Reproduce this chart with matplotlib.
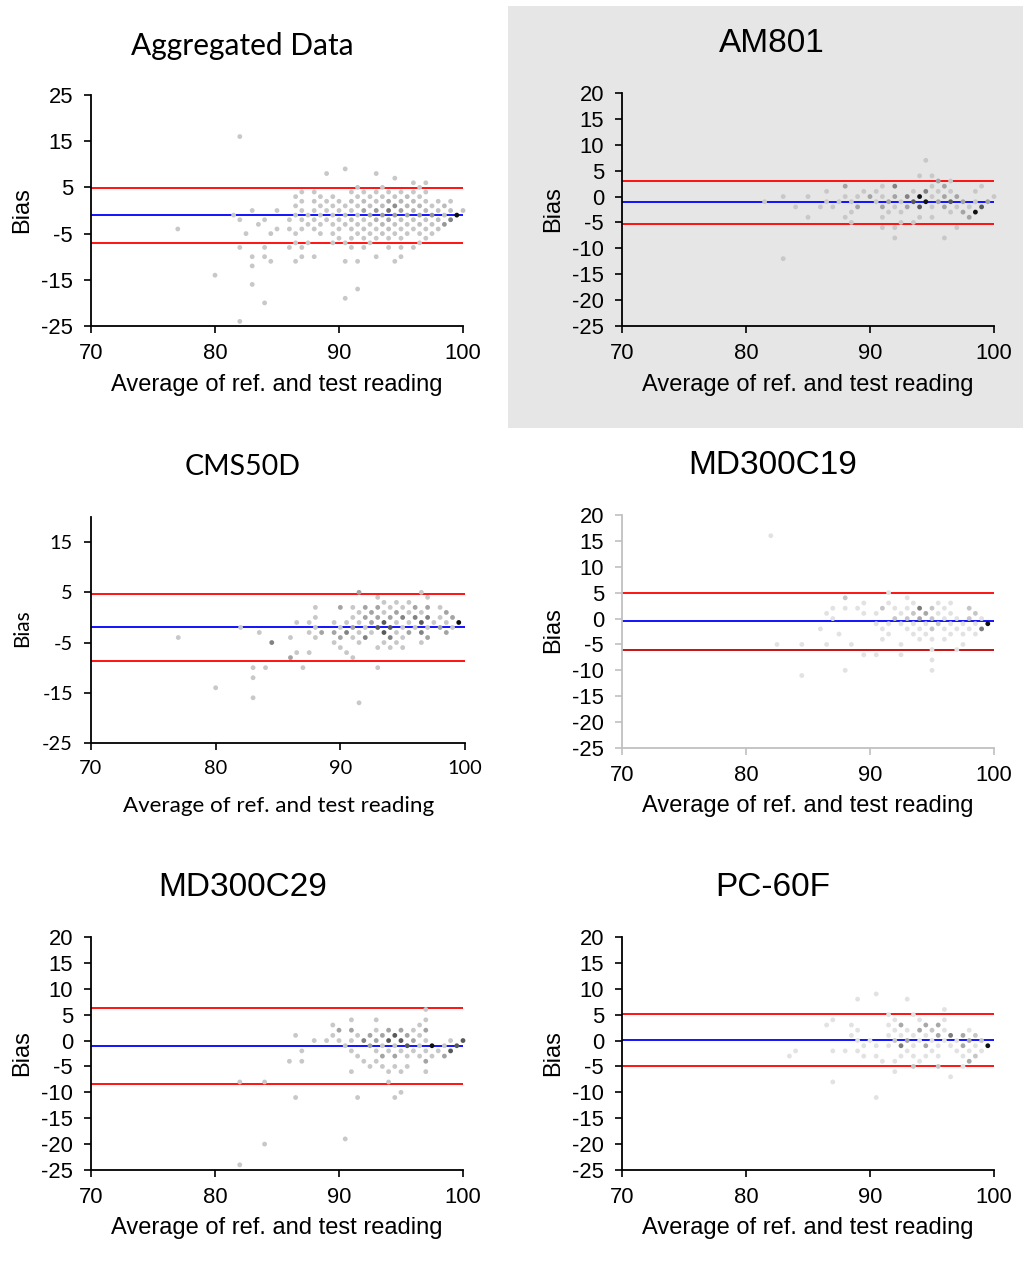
import numpy as np
import matplotlib
matplotlib.use("Agg")
from matplotlib import pyplot as plt
from matplotlib.patches import Rectangle

# (average, bias, number of readings at that spot)
am801 = [
    (81.5, -1, 1), (83, 0, 1), (83, -12, 1), (84, -2, 1), (85, 0, 1), (85, -4, 1), (86, -2, 1),
    (86.5, 1, 1), (86.5, -1, 1), (87, -2, 1), (87.5, -1, 1),
    (88, 2, 2), (88, 0, 1), (88, -4, 1), (88.5, -1, 1), (88.5, -3, 1), (88.5, -5, 1), (89, 0, 1),
    (89, -2, 2), (89.5, 1, 1), (90, 0, 2), (90.5, 1, 1), (90.5, -1, 1),
    (91, 2, 1), (91, 0, 1), (91, -2, 2), (91, -4, 1), (91, -6, 1), (91.5, -1, 2), (91.5, -3, 1),
    (92, 2, 3), (92, 0, 2), (92, -2, 1), (92, -6, 1), (92, -8, 1), (92.5, -1, 1), (92.5, -3, 1),
    (92.5, -5, 1), (93, 0, 3), (93, -2, 2), (93.5, 1, 1), (93.5, -1, 4), (93.5, -5, 1),
    (94, 4, 1), (94, 0, 5), (94, -2, 4), (94, -4, 1), (94.5, 7, 1), (94.5, 1, 3), (94.5, -1, 5),
    (95, 4, 1), (95, 2, 1), (95, 0, 1), (95, -2, 1), (95, -4, 1), (95.5, 3, 2), (95.5, 1, 1),
    (95.5, -1, 2), (96, 2, 2), (96, 0, 2), (96, -2, 2), (96, -8, 1), (96.5, 3, 1), (96.5, 1, 1),
    (96.5, -1, 4), (96.5, -3, 1), (97, 0, 2), (97, -2, 1), (97, -6, 1), (97.5, -1, 2),
    (97.5, -3, 2), (98, -2, 1), (98, -4, 2), (98.5, 1, 1), (98.5, -1, 1), (98.5, -3, 5),
    (99, 2, 1), (99, -2, 4), (99.5, -1, 2), (100, 0, 1)]

cms50d = [
    (77, -4, 1), (80, -14, 1), (82, -2, 1), (83, -10, 1), (83, -12, 1), (83, -16, 1), (83.5, -3, 1),
    (84, -10, 1), (84.5, -5, 3), (86, -4, 1), (86, -8, 2), (86.5, -1, 1), (86.5, -7, 1),
    (87, -10, 1), (87.5, -1, 1), (87.5, -3, 1), (87.5, -7, 1), (88, 2, 1), (88, 0, 1), (88, -2, 1),
    (88, -4, 1), (88.5, -3, 2), (89.5, -1, 1), (89.5, -3, 2), (89.5, -5, 1), (90, 2, 2),
    (90, -2, 1), (90, -4, 2), (90, -6, 1), (90.5, -1, 1), (90.5, -3, 3), (90.5, -7, 1),
    (91, 2, 1), (91, 0, 1), (91, -2, 2), (91, -4, 1), (91, -8, 1), (91.5, 5, 2), (91.5, 1, 1),
    (91.5, -1, 1), (91.5, -3, 1), (91.5, -5, 1), (91.5, -17, 1), (92, 2, 2), (92, 0, 2),
    (92, -2, 1), (92, -4, 3), (92.5, 1, 2), (92.5, -1, 2), (92.5, -3, 1), (93, 4, 1), (93, 2, 2),
    (93, 0, 2), (93, -2, 4), (93, -6, 1), (93, -10, 1), (93.5, 3, 1), (93.5, 1, 1), (93.5, -1, 4),
    (93.5, -3, 4), (93.5, -5, 1), (94, 2, 1), (94, 0, 2), (94, -2, 4), (94, -4, 3), (94, -6, 1),
    (94.5, 3, 1), (94.5, 1, 2), (94.5, -1, 1), (94.5, -3, 1), (94.5, -5, 1), (95, 2, 1),
    (95, 0, 3), (95, -2, 1), (95, -4, 1), (95, -6, 1), (95.5, 3, 1), (95.5, 1, 1), (95.5, -1, 1),
    (95.5, -3, 2), (96, 2, 2), (96, 0, 3), (96, -2, 1), (96.5, 5, 1), (96.5, 1, 1), (96.5, -1, 4),
    (96.5, -3, 3), (96.5, -5, 1), (97, 4, 1), (97, 2, 2), (97, 0, 3), (97, -2, 1), (97, -4, 2),
    (97.5, -1, 1), (98, 2, 1), (98, 0, 1), (98, -2, 2), (98.5, 1, 2), (98.5, -1, 1),
    (98.5, -3, 2), (99, 0, 2), (99, -2, 1), (99.5, -1, 5)]

md300c19 = [
    (82, 16, 1), (82.5, -5, 1), (84.5, -5, 1), (84.5, -11, 1), (86, -2, 1), (86.5, 1, 1),
    (86.5, -5, 1), (87, 2, 1), (87, 0, 1), (87.5, -3, 1), (88, 4, 2), (88, 2, 1), (88, -10, 1),
    (88.5, -5, 1), (89, 2, 1), (89.5, 3, 1), (89.5, 1, 1), (89.5, -7, 1), (90.5, 1, 1),
    (90.5, -1, 1), (90.5, -7, 1), (91, 2, 2), (91, -2, 1), (91, -4, 1), (91.5, 5, 1), (91.5, 3, 1),
    (91.5, -1, 1), (91.5, -3, 1), (92, 2, 1), (92, 0, 2), (92.5, 1, 1), (92.5, -1, 1),
    (92.5, -5, 1), (92.5, -7, 1), (93, 4, 1), (93, 2, 1), (93, 0, 2), (93, -2, 1), (93.5, 3, 1),
    (93.5, 1, 2), (93.5, -1, 1), (93.5, -3, 1), (94, 2, 4), (94, 0, 3), (94, -2, 1), (94, -4, 1),
    (94.5, 1, 3), (94.5, -1, 1), (94.5, -3, 1), (95, 2, 2), (95, 0, 2), (95, -2, 2), (95, -4, 1),
    (95, -6, 1), (95, -8, 1), (95, -10, 1), (95.5, 3, 1), (95.5, 1, 1), (95.5, -1, 2), (96, 2, 1),
    (96, 0, 1), (96, -2, 1), (96, -4, 1), (96.5, 3, 1), (96.5, 1, 1), (96.5, -1, 1), (96.5, -3, 1),
    (97, 0, 1), (97, -2, 1), (97, -6, 1), (97.5, -1, 1), (97.5, -3, 1), (97.5, -5, 1), (98, 2, 2),
    (98, 0, 2), (98, -2, 1), (98.5, 1, 2), (98.5, -1, 1), (98.5, -3, 1), (99, 0, 1), (99, -2, 4),
    (99.5, -1, 5)]

md300c29 = [
    (82, -8, 1), (82, -24, 1), (84, -8, 1), (84, -20, 1), (86, -4, 1), (86.5, 1, 1), (86.5, -11, 1),
    (87, -2, 1), (87, -4, 1), (88, 0, 1), (89, 0, 1), (89.5, 3, 1), (89.5, 1, 1), (90, 2, 2),
    (90, 0, 1), (90.5, -1, 1), (90.5, -19, 1), (91, 4, 1), (91, 2, 2), (91, 0, 1), (91, -2, 1),
    (91, -6, 1), (91.5, 1, 1), (91.5, -3, 1), (91.5, -11, 1), (92, 0, 3), (92, -4, 1),
    (92.5, 1, 2), (92.5, -1, 2), (92.5, -5, 1), (93, 4, 1), (93, 2, 1), (93, 0, 2), (93, -2, 1),
    (93, -4, 1), (93.5, 1, 2), (93.5, -1, 1), (93.5, -3, 2), (93.5, -5, 1), (94, 2, 2), (94, 0, 4),
    (94, -2, 1), (94, -6, 1), (94, -8, 1), (94.5, 1, 4), (94.5, -1, 1), (94.5, -3, 2),
    (94.5, -5, 1), (94.5, -11, 1), (95, 2, 2), (95, 0, 4), (95, -2, 1), (95, -6, 1), (95, -10, 1),
    (95.5, 1, 2), (95.5, -1, 4), (95.5, -3, 1), (95.5, -5, 1), (96, 2, 1), (96, 0, 2), (96, -2, 1),
    (96.5, 3, 1), (96.5, 1, 1), (96.5, -1, 1), (96.5, -3, 1), (97, 6, 1), (97, 4, 1), (97, 2, 2),
    (97, 0, 1), (97, -2, 1), (97, -4, 2), (97, -6, 1), (97.5, -1, 5), (97.5, -3, 1), (98, -2, 1),
    (98.5, -1, 1), (98.5, -3, 2), (99, 0, 1), (99, -2, 4), (99.5, -1, 4), (100, 0, 4)]

pc60f = [
    (83.5, -3, 1), (84, -2, 1), (86.5, 3, 1), (87, 4, 1), (87, -2, 1), (87, -8, 1), (88, -2, 1),
    (88.5, 3, 1), (88.5, 1, 1), (89, 8, 1), (89, 2, 1), (89, 0, 1), (89, -2, 1), (89.5, -1, 1),
    (89.5, -3, 1), (90, 0, 1), (90.5, 9, 1), (90.5, -1, 1), (90.5, -3, 1), (90.5, -11, 1),
    (91, -4, 1), (91.5, 5, 1), (91.5, 3, 1), (91.5, 1, 1), (91.5, -1, 1), (92, 4, 1), (92, 2, 1),
    (92, 0, 2), (92, -4, 1), (92, -6, 1), (92.5, 3, 3), (92.5, 1, 1), (92.5, -1, 4), (92.5, -3, 1),
    (93, 8, 1), (93, 2, 1), (93, 0, 3), (93, -2, 1), (93.5, 5, 1), (93.5, 1, 1), (93.5, -1, 1),
    (93.5, -3, 1), (93.5, -5, 2), (94, 4, 1), (94, 2, 3), (94, 0, 1), (94, -4, 1), (94.5, 3, 3),
    (94.5, 1, 1), (94.5, -1, 3), (94.5, -3, 1), (95, 2, 2), (95, 0, 1), (95, -2, 1), (95.5, 3, 3),
    (95.5, 1, 3), (95.5, -1, 1), (95.5, -3, 1), (95.5, -5, 2), (96, 6, 1), (96, 4, 1), (96, 2, 1),
    (96, 0, 1), (96.5, 1, 4), (96.5, -1, 1), (96.5, -7, 1), (97, 0, 1), (97, -2, 1), (97.5, 1, 3),
    (97.5, -1, 3), (97.5, -3, 1), (97.5, -5, 1), (98, 2, 1), (98, 0, 3), (98, -2, 1), (98, -4, 3),
    (98.5, 1, 2), (98.5, -1, 1), (98.5, -3, 2), (99, 0, 2), (99, -2, 1), (99.5, -1, 5)]

# mean bias and limits of agreement (lower, mean, upper)
loa_agg = (-7.0, -1.0, 4.9)
loa_am801 = (-5.3, -1.1, 3.1)
loa_cms50d = (-8.6, -2.0, 4.6)
loa_md300c19 = (-6.0, -0.5, 5.0)
loa_md300c29 = (-8.4, -1.1, 6.2)
loa_pc60f = (-5.0, 0.1, 5.2)

grey_normal = ['#c8c8c8', '#a4a4a4', '#828282', '#5a5a5a', '#101010']
grey_light = ['#e2e2e2', '#c6c6c6', '#a8a8a8', '#7c7c7c', '#101010']

ARIAL = ['Liberation Sans', 'DejaVu Sans']
CALIB = ['Lato', 'DejaVu Sans']
plt.rcParams['font.family'] = ARIAL
plt.rcParams['axes.unicode_minus'] = False

W, H = 1023, 1263
fig = plt.figure(figsize=(W / 100, H / 100), dpi=100)
fig.patches.append(Rectangle((508 / W, 1 - 428 / H), (W - 508) / W, (428 - 6) / H,
                             transform=fig.transFigure, facecolor='#e6e6e6',
                             edgecolor='none', zorder=-10))


def make_ax(x0, y0, x1, y1):
    return fig.add_axes([x0 / W, 1 - y1 / H, (x1 - x0) / W, (y1 - y0) / H])


def ftext(x, y, s, **kw):
    fig.text(x / W, 1 - y / H, s, ha='center', va='center', **kw)


def panel(ax, pts, colors, loa, yticks, ylim, spine='black', font=ARIAL, tsize=15.8,
          lower_col='red'):
    xs = np.array([p[0] for p in pts])
    ys = np.array([p[1] for p in pts])
    c = [colors[p] for p in pts] if isinstance(colors, dict) else \
        [colors[min(p[2], 5) - 1] for p in pts]
    ax.axhline(loa[0], color=lower_col, lw=1.3, zorder=1)
    ax.axhline(loa[1], color='#0000ff', lw=1.3, zorder=1)
    ax.axhline(loa[2], color='red', lw=1.3, zorder=1)
    ax.scatter(xs, ys, s=12, c=c, linewidths=0, zorder=3, clip_on=False)
    ax.set_xlim(70, 100)
    ax.set_ylim(*ylim)
    xt = [70, 80, 90, 100]
    ax.set_xticks(xt, [str(v) for v in xt], fontfamily=font, fontsize=tsize)
    ax.set_yticks(list(yticks), [str(v) for v in yticks], fontfamily=font, fontsize=tsize)
    ax.set_facecolor('none')
    for s in ['top', 'right']:
        ax.spines[s].set_visible(False)
    for s in ['left', 'bottom']:
        ax.spines[s].set_color(spine)
        ax.spines[s].set_linewidth(1.3)
    ax.tick_params(direction='out', length=5, width=1.2, color=spine)
    ax.tick_params(axis='x', pad=7)
    ax.tick_params(axis='y', pad=8)


# aggregated counts: all five devices together
agg = {}
for dev in [am801, cms50d, md300c19, md300c29, pc60f]:
    for a, b, n in dev:
        agg[(a, b)] = agg.get((a, b), 0) + n
nmax = max(agg.values())
agg_pts = [(k[0], k[1], v) for k, v in agg.items()]
agg_col = {}
for p in agg_pts:
    t = ((p[2] - 1) / (nmax - 1)) ** 2.3
    g = 200 * (1 - t) + 15 * t
    agg_col[p] = '#%02x%02x%02x' % (int(g), int(g), int(g))

XL = 'Average of ref. and test reading'

ax1 = make_ax(91, 95, 463, 326)
panel(ax1, agg_pts, agg_col, loa_agg, range(-25, 26, 10), (-25, 25))
ftext(242, 46, 'Aggregated Data', fontsize=21.5, family=CALIB)
ftext(277, 385, XL, fontsize=17, family=ARIAL)
ftext(22, 210, 'Bias', fontsize=17, family=ARIAL, rotation=90)

ax2 = make_ax(622, 93, 994, 326)
panel(ax2, am801, grey_normal, loa_am801, range(-25, 21, 5), (-25, 20))
ftext(772, 44, 'AM801', fontsize=24, family=ARIAL)
ftext(808, 385, XL, fontsize=17, family=ARIAL)
ftext(553, 209, 'Bias', fontsize=17, family=ARIAL, rotation=90)

ax3 = make_ax(91, 517, 465, 743)
panel(ax3, cms50d, grey_normal, loa_cms50d, range(-25, 16, 10), (-25, 20),
      font=CALIB, tsize=14.4)
ftext(243, 467, 'CMS50D', fontsize=20.5, family=CALIB)
ftext(279, 806, XL, fontsize=16.1, family=CALIB)
ftext(22, 628, 'Bias', fontsize=15, family=CALIB, rotation=90)

ax4 = make_ax(622, 515, 994, 748)
panel(ax4, md300c19, grey_light, loa_md300c19, range(-25, 21, 5), (-25, 20),
      spine='#c0c0c0', lower_col='#c00000')
ftext(773, 466, 'MD300C19', fontsize=24, family=ARIAL)
ftext(808, 806, XL, fontsize=17, family=ARIAL)
ftext(553, 630, 'Bias', fontsize=17, family=ARIAL, rotation=90)

ax5 = make_ax(91, 937, 463, 1170)
panel(ax5, md300c29, grey_normal, loa_md300c29, range(-25, 21, 5), (-25, 20))
ftext(243, 887, 'MD300C29', fontsize=24, family=ARIAL)
ftext(277, 1228, XL, fontsize=17, family=ARIAL)
ftext(22, 1053, 'Bias', fontsize=17, family=ARIAL, rotation=90)

ax6 = make_ax(622, 937, 994, 1170)
panel(ax6, pc60f, grey_light, loa_pc60f, range(-25, 21, 5), (-25, 20))
ftext(773, 887, 'PC-60F', fontsize=24, family=ARIAL)
ftext(808, 1228, XL, fontsize=17, family=ARIAL)
ftext(553, 1053, 'Bias', fontsize=17, family=ARIAL, rotation=90)

fig.savefig('out.png', dpi=100)
